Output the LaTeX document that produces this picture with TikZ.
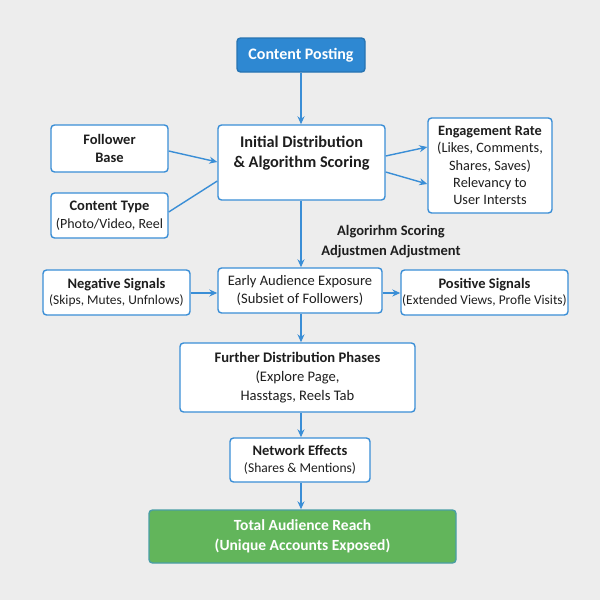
\documentclass[tikz,border=0pt]{standalone}
\usepackage{fontspec}
\setmainfont{Carlito}
\usetikzlibrary{arrows.meta}
\definecolor{bg}{HTML}{EDEDED}
\definecolor{bblue}{HTML}{3A8ED6}
\definecolor{fblue}{HTML}{2E88D2}
\definecolor{fgreen}{HTML}{62B55B}
\definecolor{txt}{HTML}{1E1E1E}
\tikzset{
  box/.style={draw=bblue, line width=1.4pt, fill=white, rounded corners=3.5pt, align=center, text=txt, inner sep=0pt, font=\fontsize{14}{17}\selectfont},
  arr/.style={draw=bblue, line width=1.4pt, -{Stealth[length=8pt,width=7pt]}},
  ln/.style={draw=bblue, line width=1.4pt},
}
\begin{document}
\begin{tikzpicture}[x=1pt,y=-1pt]
\fill[bg] (0,0) rectangle (600,600);
\useasboundingbox (0,0) rectangle (600,600);

\node[box, fill=fblue, draw=fblue!85!black, text=white, minimum width=128, minimum height=34, font=\fontsize{16}{18}\selectfont\bfseries] (post) at (301,55) {Content Posting};

\node[box, minimum width=167, minimum height=75] (init) at (301.5,162.5) {};
\node[align=center, text=txt, font=\fontsize{16.3}{20}\selectfont\bfseries] (inittxt) at (301.5,153) {Initial Distribution\\\& Algorithm Scoring};

\node[box, minimum width=117, minimum height=47, font=\fontsize{14.5}{18}\selectfont\bfseries] (foll) at (109.5,148.5) {Follower\\Base};

\node[box, minimum width=117, minimum height=45, font=\fontsize{14}{18}\selectfont] (ctype) at (109.5,215.5) {{\bfseries\fontsize{14.5}{18}\selectfont Content Type}\\(Photo/Video, Reel};

\node[box, minimum width=124, minimum height=95, font=\fontsize{14.3}{17.3}\selectfont] (eng) at (490,165.5) {{\bfseries Engagement Rate}\\(Likes, Comments,\\Shares, Saves)\\Relevancy to\\User Intersts};

\node[align=center, text=txt, font=\fontsize{14.5}{20}\selectfont\bfseries] (adj) at (391,242) {Algorirhm Scoring\\Adjustmen Adjustment};

\node[box, minimum width=147, minimum height=45, font=\fontsize{13.4}{16.5}\selectfont] (neg) at (116.5,292.5) {{\bfseries\fontsize{14.5}{16.5}\selectfont Negative Signals}\\(Skips, Mutes, Unfnlows)};

\node[box, minimum width=164, minimum height=45, font=\fontsize{14.5}{18}\selectfont] (early) at (300,290.5) {Early Audience Exposure\\(Subsiet of Followers)};

\node[box, minimum width=167, minimum height=45, font=\fontsize{13.4}{16.5}\selectfont] (pos) at (484.5,292.5) {{\bfseries\fontsize{14.5}{16.5}\selectfont Positive Signals}\\(Extended Views, Profle Visits)};

\node[box, minimum width=235, minimum height=69, font=\fontsize{14.6}{19}\selectfont] (further) at (297.5,377.5) {{\bfseries Further Distribution Phases}\\(Explore Page,\\Hasstags, Reels Tab};

\node[box, minimum width=140, minimum height=44, font=\fontsize{13.5}{17}\selectfont] (net) at (300,460) {{\bfseries\fontsize{14.5}{17}\selectfont Network Effects}\\(Shares \& Mentions)};

\node[box, fill=fgreen, draw=bblue!60!fgreen, text=white, minimum width=307, minimum height=53, font=\fontsize{15.5}{20}\selectfont\bfseries] (total) at (302.5,536.5) {Total Audience Reach\\(Unique Accounts Exposed)};

\draw[arr] (post.south -| 301,0) -- (init.north -| 301,0);
\draw[arr] (foll.east |- 0,151) -- (init.west |- 0,162);
\draw[ln] (ctype.east |- 0,212) -- (init.west |- 0,181);
\draw[arr] (init.east |- 0,156) -- (eng.west |- 0,147);
\draw[arr] (init.east |- 0,172) -- (eng.west |- 0,184);
\draw[arr] (init.south -| 301,0) -- (early.north -| 301,0);
\draw[arr] (neg.east |- 0,293) -- (early.west |- 0,293);
\draw[arr] (early.east |- 0,293) -- (pos.west |- 0,293);
\draw[arr] (early.south -| 301,0) -- (further.north -| 301,0);
\draw[arr] (further.south -| 301,0) -- (net.north -| 301,0);
\draw[arr] (net.south -| 301,0) -- (total.north -| 301,0);
\end{tikzpicture}
\end{document}
